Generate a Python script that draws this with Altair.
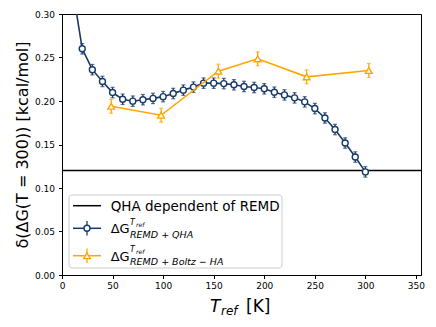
import altair as alt
import pandas as pd

# ---- data ----
qha_T = [10, 20, 30, 40, 50, 60, 70, 80, 90, 100, 110, 120, 130, 140, 150,
         160, 170, 180, 190, 200, 210, 220, 230, 240, 250, 260, 270, 280, 290, 300]
qha_val = [0.333, 0.260, 0.236, 0.2225, 0.2097, 0.202, 0.1998, 0.2015, 0.203, 0.205,
           0.2086, 0.2125, 0.216, 0.2205, 0.2205, 0.220, 0.2186, 0.2167, 0.2155, 0.214,
           0.2101, 0.207, 0.2036, 0.199, 0.1913, 0.1805, 0.1672, 0.1517, 0.1356, 0.1185]
qha_err = [0.006] * len(qha_T)

bh_T = [48.7, 98, 154.6, 193.5, 241.9, 303.4]
bh_val = [0.194, 0.1836, 0.2343, 0.2485, 0.2278, 0.2351]
bh_err = [0.008, 0.008, 0.008, 0.008, 0.008, 0.008]

ref_line = [0.120]

BLUE = "#183a68"
ORANGE = "#ffa500"
FONT = "DejaVu Sans"

qha = pd.DataFrame({"T": qha_T, "v": qha_val,
                    "lo": [a - b for a, b in zip(qha_val, qha_err)],
                    "hi": [a + b for a, b in zip(qha_val, qha_err)]})
bh = pd.DataFrame({"T": bh_T, "v": bh_val,
                   "lo": [a - b for a, b in zip(bh_val, bh_err)],
                   "hi": [a + b for a, b in zip(bh_val, bh_err)]})
hl = pd.DataFrame({"y": ref_line})

xsc = alt.Scale(domain=[0, 355], nice=False, zero=False)
ysc = alt.Scale(domain=[0, 0.30], nice=False)

xax = alt.Axis(values=[0, 50, 100, 150, 200, 250, 300, 350], title=None, grid=False,
               labelFontSize=9, labelFont=FONT, labelColor="black", tickColor="black",
               domainColor="black", tickSize=3.5, labelPadding=3, labelFlush=False)
yax = alt.Axis(values=[0, 0.05, 0.10, 0.15, 0.20, 0.25, 0.30], format=".2f",
               title="δ(ΔG(T = 300)) [kcal/mol]", titleFontSize=16, titleFont=FONT,
               titleFontWeight="normal", titleColor="black", titlePadding=4,
               grid=False, labelFontSize=9, labelFont=FONT, labelColor="black",
               tickColor="black", domainColor="black", tickSize=3.5, labelPadding=4)

X = lambda: alt.X("T:Q", scale=xsc, axis=xax)
Y = lambda f="v": alt.Y(f"{f}:Q", scale=ysc, axis=yax)

hline = alt.Chart(hl).mark_rule(color="black", strokeWidth=1.5).encode(y=Y("y"))

def series(df, color, shape, size):
    base = alt.Chart(df)
    line = base.mark_line(color=color, strokeWidth=1.6, clip=True).encode(x=X(), y=Y())
    bars = base.mark_rule(color=color, strokeWidth=1.3, clip=True).encode(
        x=X(), y=Y("lo"), y2="hi")
    cap_lo = base.mark_tick(color=color, orient="horizontal", size=4, thickness=1.2,
                            clip=True).encode(x=X(), y=Y("lo"))
    cap_hi = base.mark_tick(color=color, orient="horizontal", size=4, thickness=1.2,
                            clip=True).encode(x=X(), y=Y("hi"))
    pts = base.mark_point(shape=shape, filled=True, fill="white", stroke=color,
                          strokeWidth=1.4, size=size, opacity=1, clip=True).encode(
        x=X(), y=Y())
    return [line, bars, cap_lo, cap_hi, pts]

one = alt.Data(values=[{"a": 1}])

def txt(x, y, s, size, italic=False, align="left"):
    return alt.Chart(one).mark_text(
        text=s, font=FONT, fontSize=size, fontStyle="italic" if italic else "normal",
        align=align, baseline="alphabetic", color="black").encode(
        x=alt.value(x), y=alt.value(y))

def seg(x1, x2, y1, y2, color, w=1.5):
    return alt.Chart(one).mark_rule(color=color, strokeWidth=w).encode(
        x=alt.value(x1), x2=alt.value(x2), y=alt.value(y1), y2=alt.value(y2))

def marker(x, y, shape, color, size):
    return alt.Chart(one).mark_point(shape=shape, filled=True, fill="white",
                                     stroke=color, strokeWidth=1.4, size=size,
                                     opacity=1).encode(x=alt.value(x), y=alt.value(y))

# legend (drawn in plot-area pixels)
legend_box = alt.Chart(one).mark_rect(fill="white", fillOpacity=0.8, stroke="#cccccc",
                                      strokeWidth=1, cornerRadius=3).encode(
    x=alt.value(7), x2=alt.value(220), y=alt.value(181), y2=alt.value(254))
leg = [legend_box,
       seg(11, 39, 191.7, 191.7, "black"),
       txt(48.7, 196.5, "QHA dependent of REMD", 13.5),
       seg(11, 39, 214.3, 214.3, BLUE), seg(25, 25, 207, 221.5, BLUE, 1.3),
       marker(25, 214.3, "circle", BLUE, 36),
       txt(48.7, 219.3, "ΔG", 13),
       txt(68, 211, "T", 8, True), txt(74, 213, "ref", 6, True),
       txt(68, 224, "REMD + QHA", 9.5, True),
       seg(11, 39, 241.7, 241.7, ORANGE), seg(25, 25, 234.5, 249, ORANGE, 1.3),
       marker(25, 241.7, "triangle-up", ORANGE, 45),
       txt(48.7, 246.5, "ΔG", 13),
       txt(68, 238, "T", 8, True), txt(74, 240, "ref", 6, True),
       txt(68, 251, "REMD + Boltz − HA", 9.5, True),
       ]

# x-axis title
xtitle = [txt(148, 297.5, "T", 17, True), txt(159, 301, "ref", 12, True),
          txt(184, 297.5, "[K]", 17)]

layers = [hline] + series(qha, BLUE, "circle", 36) + series(bh, ORANGE, "triangle-up", 45) \
    + leg + xtitle

chart = alt.layer(*layers).properties(
    width=359, height=261,
    autosize=alt.AutoSizeParams(type="none"),
    padding={"left": 54, "top": 6, "right": 5, "bottom": 50},
).configure_view(stroke="black", strokeWidth=1)

chart.save("out.html", embed_options={"renderer": "svg", "actions": False})
